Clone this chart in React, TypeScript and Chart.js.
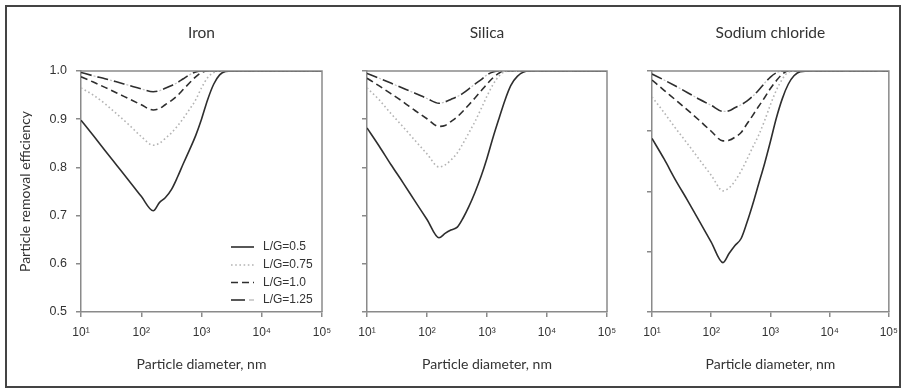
import React, { useEffect, useRef } from 'react';
import { Chart, registerables } from 'chart.js';

Chart.register(...registerables);

// ---------- data ----------
const DIAMETERS_NM = [10, 16, 25, 40, 63, 100, 158, 200, 250, 320, 400, 500, 630, 800, 1000, 1260, 1600, 2000, 2500, 3200, 5000, 10000, 100000];
const X_TICKS = [10, 100, 1000, 10000, 100000];
const X_TICK_LABELS = ['10¹', '10²', '10³', '10⁴', '10⁵'];
const SERIES_LABELS = ['L/G=0.5', 'L/G=0.75', 'L/G=1.0', 'L/G=1.25'];
const PANEL_TITLES = ['Iron', 'Silica', 'Sodium chloride'];
const Y_MINS = [0.5, 0.5, 0.6];
const Y_MAX = 1.0;

const IRON_05 = [0.898, 0.866, 0.835, 0.803, 0.772, 0.740, 0.710, 0.727, 0.737, 0.755, 0.780, 0.808, 0.836, 0.866, 0.900, 0.940, 0.973, 0.992, 0.999, 1, 1, 1, 1];
const IRON_075 = [0.965, 0.950, 0.932, 0.910, 0.888, 0.864, 0.846, 0.850, 0.860, 0.872, 0.886, 0.902, 0.920, 0.940, 0.965, 0.986, 0.997, 1, 1, 1, 1, 1, 1];
const IRON_10 = [0.988, 0.977, 0.966, 0.954, 0.942, 0.930, 0.919, 0.922, 0.930, 0.939, 0.949, 0.962, 0.975, 0.988, 0.997, 1, 1, 1, 1, 1, 1, 1, 1];
const IRON_125 = [0.997, 0.990, 0.984, 0.977, 0.970, 0.963, 0.957, 0.959, 0.964, 0.970, 0.976, 0.984, 0.992, 0.998, 1, 1, 1, 1, 1, 1, 1, 1, 1];

const SILICA_05 = [0.882, 0.844, 0.806, 0.768, 0.730, 0.692, 0.654, 0.663, 0.670, 0.676, 0.695, 0.719, 0.748, 0.782, 0.819, 0.862, 0.903, 0.940, 0.970, 0.989, 1, 1, 1];
const SILICA_075 = [0.965, 0.940, 0.912, 0.884, 0.856, 0.828, 0.801, 0.805, 0.815, 0.830, 0.850, 0.872, 0.895, 0.922, 0.948, 0.972, 0.990, 0.999, 1, 1, 1, 1, 1];
const SILICA_10 = [0.985, 0.969, 0.953, 0.936, 0.918, 0.901, 0.885, 0.887, 0.895, 0.905, 0.917, 0.930, 0.944, 0.959, 0.973, 0.986, 0.996, 1, 1, 1, 1, 1, 1];
const SILICA_125 = [0.995, 0.985, 0.975, 0.964, 0.954, 0.943, 0.933, 0.936, 0.941, 0.947, 0.954, 0.963, 0.973, 0.982, 0.992, 0.998, 1, 1, 1, 1, 1, 1, 1];

const NACL_05 = [0.888, 0.854, 0.819, 0.785, 0.751, 0.716, 0.682, 0.697, 0.710, 0.722, 0.748, 0.778, 0.812, 0.847, 0.883, 0.922, 0.955, 0.978, 0.992, 0.999, 1, 1, 1];
const NACL_075 = [0.957, 0.931, 0.905, 0.879, 0.853, 0.827, 0.801, 0.806, 0.817, 0.834, 0.853, 0.873, 0.893, 0.918, 0.944, 0.968, 0.987, 0.998, 1, 1, 1, 1, 1];
const NACL_10 = [0.985, 0.968, 0.952, 0.935, 0.918, 0.900, 0.884, 0.885, 0.890, 0.898, 0.912, 0.926, 0.941, 0.956, 0.971, 0.984, 0.995, 1, 1, 1, 1, 1, 1];
const NACL_125 = [0.995, 0.985, 0.975, 0.964, 0.953, 0.943, 0.933, 0.934, 0.939, 0.944, 0.950, 0.958, 0.968, 0.980, 0.990, 0.997, 1, 1, 1, 1, 1, 1, 1];

const PANEL_SERIES = [
  [IRON_05, IRON_075, IRON_10, IRON_125],
  [SILICA_05, SILICA_075, SILICA_10, SILICA_125],
  [NACL_05, NACL_075, NACL_10, NACL_125],
];

// ---------- layout / style ----------
const W = 906;
const H = 390;
const PLOT_LEFT = [81, 367, 652];
const PLOT_RIGHT = [322, 607, 892];
const DARK = '#2e2e2e';
const AXIS = '#8a8a8a';
const TEXT = '#333333';
const LABEL_FONT = 'Lato, "Open Sans", sans-serif';
const TICK_FONT = '"Liberation Sans", Arial, sans-serif';

const STYLES = [
  { color: DARK, width: 1.6, dash: [] as number[], offset: 0 },
  { color: '#b4b4b4', width: 1.6, dash: [1.6, 2.6], offset: 0 },
  { color: DARK, width: 1.6, dash: [7, 4], offset: 0 },
  { color: DARK, width: 1.6, dash: [11, 6], offset: 0 },
];
const UNDERLAY = { color: '#c4c4c4', width: 1.3, dash: [2, 15], offset: -13 };

const toPoints = (ys: number[]) => DIAMETERS_NM.map((d, i) => ({ x: d, y: ys[i] }));

const framePlugin = {
  id: 'frame',
  afterDraw(chart: any) {
    const { ctx, chartArea: a } = chart;
    ctx.save();
    ctx.strokeStyle = AXIS;
    ctx.lineWidth = 1.5;
    ctx.beginPath();
    ctx.moveTo(a.left, a.top);
    ctx.lineTo(a.right, a.top);
    ctx.lineTo(a.right, a.bottom);
    ctx.stroke();
    ctx.restore();
  },
};

const legendPlugin = {
  id: 'cornerLegend',
  afterDraw(chart: any) {
    const { ctx, chartArea: a } = chart;
    const rowOffsets = [65, 47, 29.5, 12];
    const x0 = a.right - 91;
    const x1 = a.right - 68;
    const tx = a.right - 59;
    ctx.save();
    ctx.font = `12px ${TICK_FONT}`;
    ctx.fillStyle = TEXT;
    ctx.textBaseline = 'middle';
    ctx.textAlign = 'left';
    SERIES_LABELS.forEach((label, i) => {
      const y = a.bottom - rowOffsets[i];
      const st = STYLES[i];
      ctx.lineWidth = st.width;
      if (i === 3) {
        ctx.setLineDash([]);
        ctx.strokeStyle = DARK;
        ctx.beginPath();
        ctx.moveTo(x0, y);
        ctx.lineTo(x0 + 14, y);
        ctx.stroke();
        ctx.strokeStyle = UNDERLAY.color;
        ctx.beginPath();
        ctx.moveTo(x0 + 18, y);
        ctx.lineTo(x1, y);
        ctx.stroke();
      } else {
        ctx.setLineDash(st.dash);
        ctx.strokeStyle = st.color;
        ctx.beginPath();
        ctx.moveTo(x0, y);
        ctx.lineTo(x1, y);
        ctx.stroke();
      }
      ctx.setLineDash([]);
      ctx.fillText(label, tx, y);
    });
    ctx.restore();
  },
};

function Panel({ index }: { index: number }) {
  const ref = useRef<HTMLCanvasElement | null>(null);

  useEffect(() => {
    if (!ref.current) return;
    const first = index === 0;
    const padLeft = first ? 17 : PLOT_LEFT[index] - 5;
    const yWidth = PLOT_LEFT[index] - padLeft;
    const series = PANEL_SERIES[index];

    const datasets: any[] = series.map((ys, i) => ({
      label: SERIES_LABELS[i],
      data: toPoints(ys),
      borderColor: STYLES[i].color,
      borderWidth: STYLES[i].width,
      borderDash: STYLES[i].dash,
      borderDashOffset: STYLES[i].offset,
      pointRadius: 0,
      fill: false,
      cubicInterpolationMode: 'monotone',
    }));
    datasets.push({
      label: SERIES_LABELS[3] + ' dots',
      data: toPoints(series[3]),
      borderColor: UNDERLAY.color,
      borderWidth: UNDERLAY.width,
      borderDash: UNDERLAY.dash,
      borderDashOffset: UNDERLAY.offset,
      pointRadius: 0,
      fill: false,
      cubicInterpolationMode: 'monotone',
    });

    const plugins: any[] = [framePlugin];
    if (first) plugins.push(legendPlugin);

    const chart = new Chart(ref.current, {
      type: 'line',
      data: { datasets },
      plugins,
      options: {
        responsive: false,
        animation: false,
        events: [],
        layout: { padding: { left: padLeft, right: W - PLOT_RIGHT[index], top: 0, bottom: 17 } },
        plugins: {
          legend: { display: false },
          tooltip: { enabled: false },
          title: {
            display: true,
            text: PANEL_TITLES[index],
            fullSize: false,
            color: TEXT,
            font: { family: LABEL_FONT, size: 15.5, weight: 'normal' },
            padding: { top: 23.7, bottom: 28.7 },
          },
        },
        scales: {
          x: {
            type: 'logarithmic',
            min: 10,
            max: 100000,
            afterBuildTicks: (s: any) => {
              s.ticks = X_TICKS.map((v) => ({ value: v }));
            },
            afterFit: (s: any) => {
              s.height = 61;
            },
            ticks: {
              autoSkip: false,
              maxRotation: 0,
              padding: 8,
              color: TEXT,
              font: { family: TICK_FONT, size: 12 },
              callback: (_v: any, i: number) => X_TICK_LABELS[i],
            },
            grid: { drawOnChartArea: false, drawTicks: true, tickLength: 5, color: AXIS, lineWidth: 1.5 },
            border: { color: AXIS, width: 1.5 },
            title: {
              display: true,
              text: 'Particle diameter, nm',
              color: TEXT,
              font: { family: LABEL_FONT, size: 14 },
              padding: { top: 0, bottom: 0 },
            },
          },
          y: {
            min: Y_MINS[index],
            max: Y_MAX,
            afterFit: (s: any) => {
              s.width = yWidth;
            },
            ticks: {
              stepSize: 0.1,
              display: first,
              padding: 9,
              color: TEXT,
              font: { family: TICK_FONT, size: 12.5 },
              callback: (v: any) => Number(v).toFixed(1),
            },
            grid: { drawOnChartArea: false, drawTicks: true, tickLength: 5, color: AXIS, lineWidth: 1.5 },
            border: { color: AXIS, width: 1.5 },
            title: {
              display: first,
              text: 'Particle removal efficiency',
              color: TEXT,
              font: { family: LABEL_FONT, size: 14 },
              padding: { top: 0, bottom: 0 },
            },
          },
        },
      } as any,
    });
    return () => chart.destroy();
  }, [index]);

  return (
    <canvas
      ref={ref}
      width={W}
      height={H}
      style={{ position: 'absolute', left: 0, top: 0, width: W, height: H }}
    />
  );
}

export default function App() {
  return (
    <div
      style={{
        position: 'absolute',
        left: 0,
        top: 0,
        width: W,
        height: H,
        overflow: 'hidden',
        background: '#ffffff',
      }}
    >
      <div
        style={{
          position: 'absolute',
          left: 5,
          top: 5,
          width: 896,
          height: 383,
          border: '2px solid #444',
          boxSizing: 'border-box',
        }}
      />
      {PANEL_TITLES.map((_, i) => (
        <Panel key={i} index={i} />
      ))}
    </div>
  );
}
